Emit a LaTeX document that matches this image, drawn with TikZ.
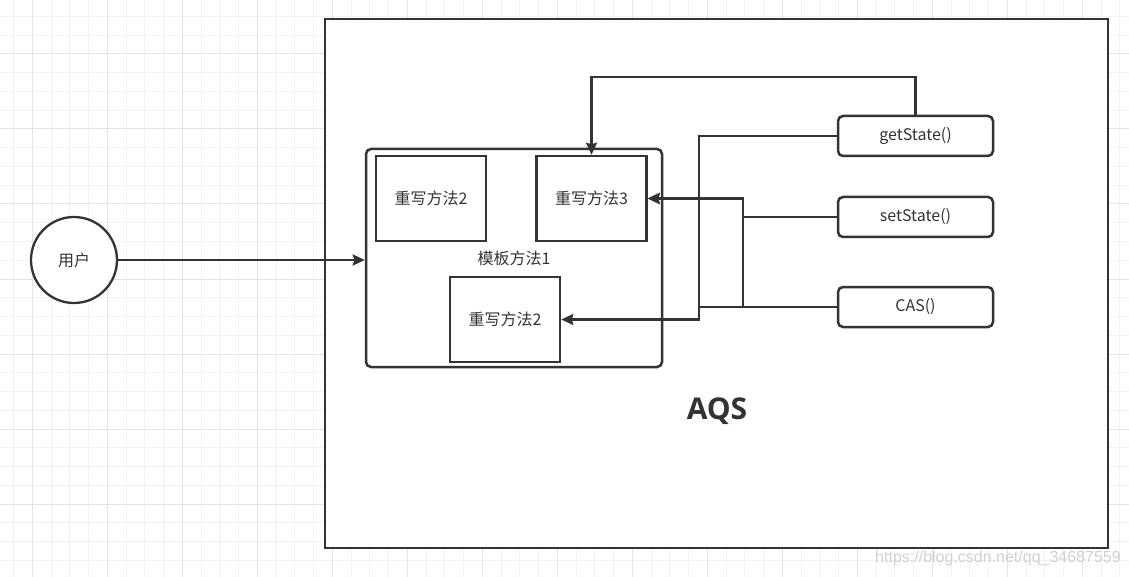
\documentclass[tikz,border=0pt]{standalone}
\usepackage{fontspec}
\setmainfont{Noto Sans CJK SC}
\newfontfamily\aqsfont{Open Sans}
\newfontfamily\wmfont{Liberation Sans}
\usepackage{xcolor}
\usepackage{tikz}
\usetikzlibrary{arrows.meta,positioning}
\definecolor{cink}{HTML}{333333}
\definecolor{cgmin}{HTML}{F2F2F2}
\definecolor{cgmaj}{HTML}{E3E3E3}
\tikzset{
  >={Stealth[length=12pt,width=11pt,inset=1.5pt]},
  box/.style={draw=cink,line width=2.5pt,fill=white,inner sep=0pt},
  rbox/.style={box,rounded corners=5pt},
  ovr/.style={box,minimum width=110pt,minimum height=85pt},
  fnc/.style={rbox,minimum width=155pt,minimum height=40pt},
  conn/.style={draw=cink,line width=2.3pt},
  gminor/.style={cgmin,line width=1pt},
  gmajor/.style={cgmaj,line width=1pt},
}
\newcommand{\lblfont}{\fontsize{16}{19}\selectfont}
\begin{document}
\begin{tikzpicture}[x=1pt,y=-1pt,font=\lblfont,text=cink]
\useasboundingbox (0,0) rectangle (1129,577);

% ================= BACKGROUND GRID =================
\begin{scope}
  \clip (0,0) rectangle (1129,577);
  \fill[white] (0,0) rectangle (1129,577);
  \foreach \i in {0,...,60} \draw[gminor] ({13.55+18.75*\i},0) -- ++(0,577);
  \foreach \j in {0,...,30} \draw[gminor] (0,{16.5+18.75*\j}) -- ++(1129,0);
  \foreach \i in {0,...,15} \draw[gmajor] ({32.3+75*\i},0) -- ++(0,577);
  \foreach \j in {0,...,7} \draw[gmajor] (0,{54+75*\j}) -- ++(1129,0);
\end{scope}

% ================= AQS FRAME =================
\node[box,minimum width=783pt,minimum height=529pt] (aqs) at (716.5,283.5) {};
\node[font=\aqsfont\bfseries\fontsize{30}{34}\selectfont] (aqslbl) at (717,411) {AQS};

% user
\node[circle,draw=cink,line width=2.3pt,fill=white,minimum size=86pt,inner sep=0pt] (user) at (74,260) {用户};

% template method with overridden methods
\node[rbox,minimum width=296pt,minimum height=218pt] (tmpl) at (514,258) {模板方法1};
\node[ovr] (m2a) at (431,198.5) {重写方法2};
\node[ovr] (m3) at (591.5,198.5) {重写方法3};
\node[ovr] (m2b) at (505,319.5) {重写方法2};

% state methods
\node[fnc] (get) at (915.5,136) {getState()};
\node[fnc] (set) at (915.5,217) {setState()};
\node[fnc] (cas) at (915.5,307) {CAS()};

% ================= CONNECTORS =================
\coordinate (busL) at (699,0);
\coordinate (busR) at (743,0);
\draw[conn,->] (user.east) -- (user.east -| tmpl.west);
\draw[conn,->] (get.north) -- ++(0,-38) -| (m3.north);
\draw[conn,->] (get.west) -| (busL |- m2b.east) -- (m2b.east);
\draw[conn,->] (set.west) -| (busR |- m3.east) -- (m3.east);
\draw[conn,->] (cas.west) -| (busR |- m3.east) -- (m3.east);
\draw[conn] (cas.west) -- (busL |- cas.west);

% watermark
\node[font=\wmfont\fontsize{16}{19}\selectfont,text=black!18] (wm) at (998,558) {https://blog.csdn.net/qq\_34687559};
\end{tikzpicture}
\end{document}
